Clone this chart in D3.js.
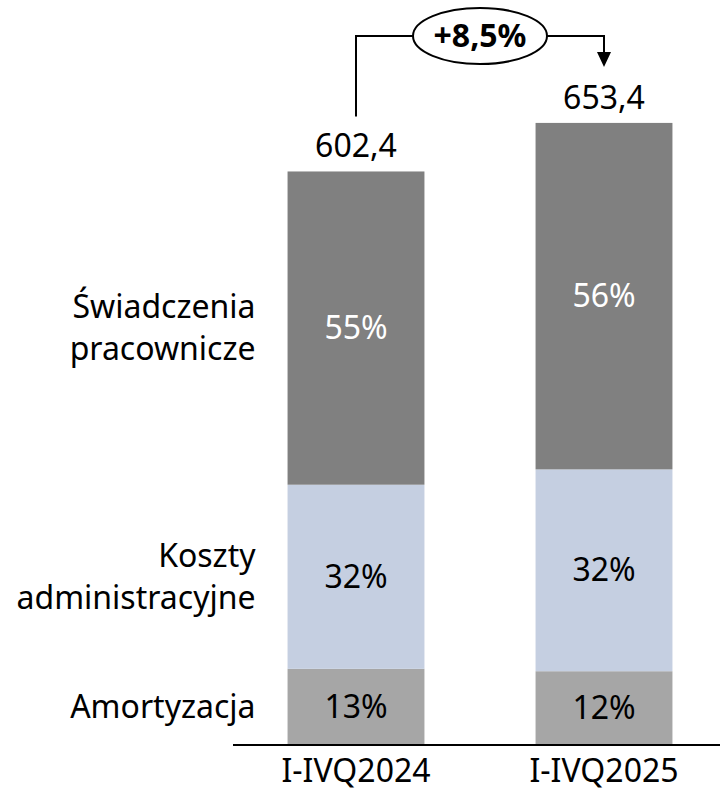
<!DOCTYPE html>
<html>
<head>
<meta charset="utf-8">
<script src="https://cdn.jsdelivr.net/npm/d3@7"></script>
<style>
  body { margin: 0; background: #fff; }
  svg { display: block; font-family: "Noto Sans", sans-serif; }
</style>
</head>
<body>
<svg id="chart" width="720" height="793"></svg>
<script>
// data
const periods = ["I-IVQ2024", "I-IVQ2025"]
const totals = [602.4, 653.4]
const segmentNames = ["Amortyzacja", "Koszty administracyjne", "Świadczenia pracownicze"]
const segmentLabels = [["Amortyzacja"], ["Koszty", "administracyjne"], ["Świadczenia", "pracownicze"]]
const amortyzacja = [80.0, 77.5]
const koszty = [193.4, 212.0]
const swiadczenia = [329.0, 363.9]
const changeLabel = "+8,5%"

const colors = ["#a6a6a6", "#c5cfe1", "#808080"]
const textColors = ["#000", "#000", "#fff"]

const svg = d3.select("#chart")
const fontSize = 32

const x = d3.scaleBand()
    .domain(periods)
    .range([232, 728])
    .paddingInner(0.448)
    .paddingOuter(0.224)

const y = d3.scaleLinear()
    .domain([0, 782.5])
    .range([745, 0])

// build stacked table
let table = periods.map((p, i) => ({
    period: p,
    total: totals[i],
    0: amortyzacja[i],
    1: koszty[i],
    2: swiadczenia[i]
}))
let stack = d3.stack().keys([0, 1, 2])(table)

stack.forEach((layer, k) => {
    let g = svg.append("g")
    g.selectAll("rect")
        .data(layer)
        .join("rect")
        .attr("x", d => x(d.data.period))
        .attr("width", x.bandwidth())
        .attr("y", d => y(d[1]))
        .attr("height", d => y(d[0]) - y(d[1]))
        .attr("fill", colors[k])

    g.selectAll("text")
        .data(layer)
        .join("text")
        .attr("x", d => x(d.data.period) + x.bandwidth() / 2)
        .attr("y", d => (y(d[0]) + y(d[1])) / 2)
        .attr("dy", "0.35em")
        .attr("text-anchor", "middle")
        .attr("font-size", fontSize)
        .attr("fill", textColors[k])
        .text(d => Math.round((d[1] - d[0]) / d.data.total * 100) + "%")
})

// category labels on the left, next to the first bar
let first = periods[0]
stack.forEach((layer, k) => {
    let d = layer[0]
    let mid = (y(d[0]) + y(d[1])) / 2
    let lines = segmentLabels[k]
    let lh = 42
    let t = svg.append("text")
        .attr("text-anchor", "end")
        .attr("font-size", fontSize)
        .attr("fill", "#000")
    lines.forEach((ln, j) => {
        t.append("tspan")
            .attr("x", x(first) - 32)
            .attr("y", mid + (j - (lines.length - 1) / 2) * lh)
            .attr("dy", "0.35em")
            .text(ln)
    })
})

// totals on top
svg.append("g").selectAll("text")
    .data(table)
    .join("text")
    .attr("x", d => x(d.period) + x.bandwidth() / 2)
    .attr("y", d => y(d.total) - 14)
    .attr("text-anchor", "middle")
    .attr("font-size", fontSize)
    .text(d => d3.format(".1f")(d.total).replace(".", ","))

// x axis
let axis = svg.append("g")
    .attr("transform", `translate(0,${y(0)})`)
    .call(d3.axisBottom(x).tickSize(0).tickPadding(14))
axis.select(".domain")
    .attr("d", "M233,0H720")
    .attr("stroke", "#000")
    .attr("stroke-width", 2)
axis.selectAll("text")
    .attr("font-size", fontSize)
    .attr("font-family", "Noto Sans, sans-serif")
    .attr("fill", "#000")

// change annotation (connector from bar 1 to bar 2)
let cx1 = x(periods[0]) + x.bandwidth() / 2
let cx2 = x(periods[1]) + x.bandwidth() / 2
let topY = 36
let ex = (cx1 + cx2) / 2
let rx = 67, ry = 28

svg.append("path")
    .attr("d", `M${cx1},${y(totals[0]) - 55}V${topY}H${ex - rx}`)
    .attr("fill", "none")
    .attr("stroke", "#000")
    .attr("stroke-width", 2)

svg.append("path")
    .attr("d", `M${ex + rx},${topY}H${cx2}V60`)
    .attr("fill", "none")
    .attr("stroke", "#000")
    .attr("stroke-width", 2)

svg.append("path")
    .attr("d", `M${cx2 - 7},52L${cx2 + 7},52L${cx2},67Z`)
    .attr("fill", "#000")

svg.append("ellipse")
    .attr("cx", ex)
    .attr("cy", topY)
    .attr("rx", rx)
    .attr("ry", ry)
    .attr("fill", "#fff")
    .attr("stroke", "#000")
    .attr("stroke-width", 2)

svg.append("text")
    .attr("x", ex)
    .attr("y", topY)
    .attr("dy", "0.35em")
    .attr("text-anchor", "middle")
    .attr("font-size", 32)
    .attr("font-weight", "bold")
    .text(changeLabel)
</script>
</body>
</html>
